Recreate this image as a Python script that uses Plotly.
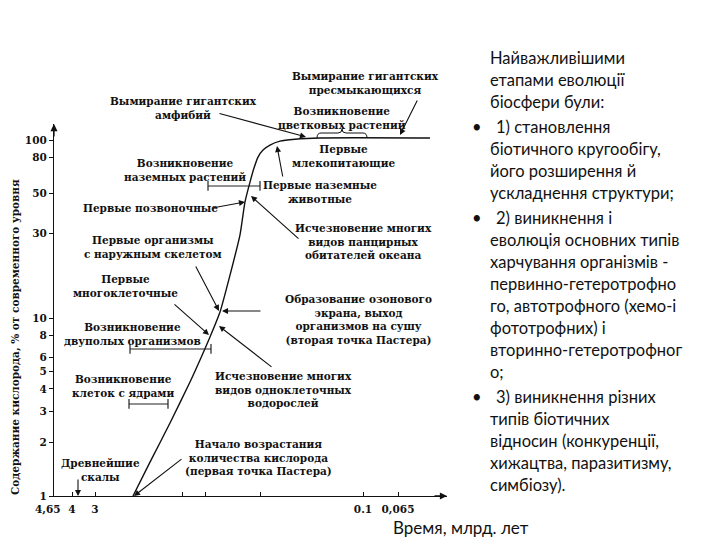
import plotly.graph_objects as go

# ---------------- data ----------------
# position along the (non-linear) time axis, in axis units, and O2 level in % of today
curve_pos = [79, 96, 116, 136, 146, 156, 166, 176, 186, 191, 196, 200, 204, 209, 216, 226, 241, 266, 376]
curve_o2 = [1.0, 1.55, 2.57, 4.37, 5.81, 7.82, 10.8, 17.4, 29.3, 44.9, 58.0, 69.6, 80.2, 87.9, 93.7, 98.6, 101.0, 102.7, 102.7]

interval_names = ["Возникновение наземных растений", "Возникновение двуполых организмов", "Возникновение клеток с ядрами"]
interval_start = [154, 76, 75]
interval_end = [206, 157, 114]
interval_o2 = [55.2, 6.70, 3.29]

x_tick_pos = [0, 18, 41, 128, 151, 206, 309, 344]
x_tick_text = ["", "4", "3", "", "", "", "0.1", "0,065"]
x_origin_label = "4,65"
y_tick_vals = [1, 2, 3, 4, 5, 6, 8, 10, 30, 50, 80, 100]

y_title = "Содержание кислорода, % от современного уровня"
x_title = "Время, млрд. лет"

right_paragraphs = [
    ["Найважливішими", "етапами еволюції", "біосфери були:"],
    ["1) становлення", "біотичного кругообігу,", "його розширення й", "ускладнення структури;"],
    ["2) виникнення і", "еволюція основних типів", "харчування організмів -", "первинно-гетеротрофно",
     "го, автотрофного (хемо-і", "фототрофних) і", "вторинно-гетеротрофног", "о;"],
    ["3) виникнення різних", "типів біотичних", "відносин (конкуренції,", "хижацтва, паразитизму,", "симбіозу)."],
]
right_bullets = [False, True, True, True]

# ---------------- layout geometry ----------------
W, H = 720, 540
OFF = 8               # page body margin of the html page
X0, X1 = 54, 447      # x axis start / arrow tip (screen px)
Y1, YT = 496, 124     # y of value 1 / arrow tip (screen px)
PPD = 178             # px per decade

def fx(x):
    return (x - OFF) / W

def fy(y):
    return 1 - (y - OFF) / H

SERIF = "DejaVu Serif"
SANS = "Lato"
lab_font = dict(family=SERIF, size=10.5, color="#111", weight="bold")
tick_font = dict(family=SERIF, size=10.5, color="#111", weight="bold")

fig = go.Figure()

fig.add_trace(go.Scatter(
    x=curve_pos, y=curve_o2, mode="lines",
    line=dict(color="#111", width=1.4, shape="spline", smoothing=0.6),
    showlegend=False, hoverinfo="skip", cliponaxis=False,
))

for name, s, e, v in zip(interval_names, interval_start, interval_end, interval_o2):
    fig.add_trace(go.Scatter(
        x=[s, e], y=[v, v], mode="lines+markers", name=name,
        line=dict(color="#222", width=1.1),
        marker=dict(symbol="line-ns", size=7, line=dict(width=1.2, color="#222"), color="#222"),
        showlegend=False, hoverinfo="skip",
    ))

annotations = []

def label(text, cx, cy, font=lab_font, align="center"):
    annotations.append(dict(
        text=text, x=fx(cx), y=fy(cy), xref="paper", yref="paper",
        showarrow=False, xanchor="center", yanchor="middle", align=align, font=font,
    ))

def arrow(hx, hy, tx, ty, width=1.1):
    annotations.append(dict(
        text="", x=fx(hx), y=fy(hy), xref="paper", yref="paper",
        ax=tx - hx, ay=ty - hy, axref="pixel", ayref="pixel",
        showarrow=True, arrowhead=2, arrowsize=1.1, arrowwidth=width,
        arrowcolor="#111", standoff=0, startstandoff=0,
    ))

# chart labels
label("Вымирание гигантских<br>амфибий", 183, 108)
label("Вымирание гигантских<br>пресмыкающихся", 365, 83)
label("Возникновение<br>цветковых растений", 342, 118)
label("Первые<br>млекопитающие", 343, 156)
label("Возникновение<br>наземных растений", 185, 170)
label("Первые наземные<br>животные", 320, 192)
label("Первые позвоночные", 150, 208)
label("Первые организмы<br>с наружным скелетом", 153, 247)
label("Исчезновение многих<br>видов панцирных<br>обитателей океана", 363, 241)
label("Первые<br>многоклеточные", 125, 286)
label("Образование озонового<br>экрана, выход<br>организмов на сушу<br>(вторая точка Пастера)", 358, 320)
label("Возникновение<br>двуполых организмов", 132, 334)
label("Возникновение<br>клеток с ядрами", 123, 386)
label("Исчезновение многих<br>видов одноклеточных<br>водорослей", 283, 389)
label("Начало возрастания<br>количества кислорода<br>(первая точка Пастера)", 258, 457)
label("Древнейшие<br>скалы", 100, 470)

# origin tick label of the time axis
label(x_origin_label, 48, 509, font=tick_font)

# pointer arrows
arrow(306, 137, 218, 113)
arrow(400, 135, 418, 99)
arrow(277, 146, 283, 178)
arrow(245, 202, 212, 208)
arrow(251, 196, 300, 240)
arrow(219, 311, 195, 265)
arrow(222, 311, 262, 311)
arrow(209, 335, 173, 303)
arrow(219, 326, 273, 368)
arrow(78, 496, 78, 478)
arrow(134, 496, 183, 458)

# axis arrow tips
arrow(X0, YT, X0, YT + 14, width=1.3)
arrow(X1, Y1, X1 - 14, Y1, width=1.3)

# brace under "цветковых растений"
brace = ("M {a},{b} Q {a},{c} {d},{c} L {e},{c} Q {m},{c} {m},{t} Q {m},{c} {f},{c} "
         "L {g},{c} Q {h},{c} {h},{b}").format(
    a=fx(317), b=fy(138), c=fy(133), d=fx(321), e=fx(338), m=fx(342), t=fy(129),
    f=fx(346), g=fx(363), h=fx(367))
shapes = [dict(type="path", path=brace, xref="paper", yref="paper",
               line=dict(color="#111", width=1.0))]

# y axis title
annotations.append(dict(
    text=y_title, x=fx(15), y=fy(337), xref="paper", yref="paper", showarrow=False,
    textangle=-90, xanchor="center", yanchor="middle",
    font=dict(family=SERIF, size=10.5, color="#111", weight="bold"),
))
# x axis title
annotations.append(dict(
    text=x_title, x=fx(391), y=fy(527), xref="paper", yref="paper", showarrow=False,
    xanchor="left", yanchor="middle", font=dict(family=SANS, size=17, color="#111"),
))

# right-hand text
txt_font = dict(family=SANS, size=16.5, color="#111")
para_top = [58, 127, 218, 397]
LINE = 22
for para, top, bullet in zip(right_paragraphs, para_top, right_bullets):
    for i, line in enumerate(para):
        x0 = 494 if (bullet and i == 0) else 488
        annotations.append(dict(
            text=line, x=fx(x0), y=fy(top + i * LINE), xref="paper", yref="paper",
            showarrow=False, xanchor="left", yanchor="middle", font=txt_font,
        ))
    if bullet:
        annotations.append(dict(
            text="•", x=fx(477), y=fy(top), xref="paper", yref="paper",
            showarrow=False, xanchor="center", yanchor="middle", font=txt_font,
        ))

fig.update_layout(
    width=W, height=H,
    margin=dict(l=0, r=0, t=0, b=0),
    paper_bgcolor="white", plot_bgcolor="white",
    showlegend=False,
    xaxis=dict(
        domain=[fx(X0), fx(X1)], range=[0, X1 - X0], automargin=False,
        showgrid=False, zeroline=False, showline=True, linecolor="#111", linewidth=1.3,
        tickmode="array", tickvals=x_tick_pos, ticktext=x_tick_text, tickangle=0,
        ticks="inside", ticklen=4, tickwidth=1.2, tickcolor="#111",
        tickfont=tick_font, ticklabelstandoff=3,
    ),
    yaxis=dict(
        type="log", domain=[fy(Y1), fy(YT)], range=[0, (Y1 - YT) / PPD], automargin=False,
        showgrid=False, zeroline=False, showline=True, linecolor="#111", linewidth=1.3,
        tickmode="array", tickvals=y_tick_vals, ticktext=[str(v) for v in y_tick_vals],
        ticks="outside", ticklen=4, tickwidth=1.2, tickcolor="#111",
        tickfont=tick_font,
    ),
    annotations=annotations,
    shapes=shapes,
)

fig.write_html("out.html")
